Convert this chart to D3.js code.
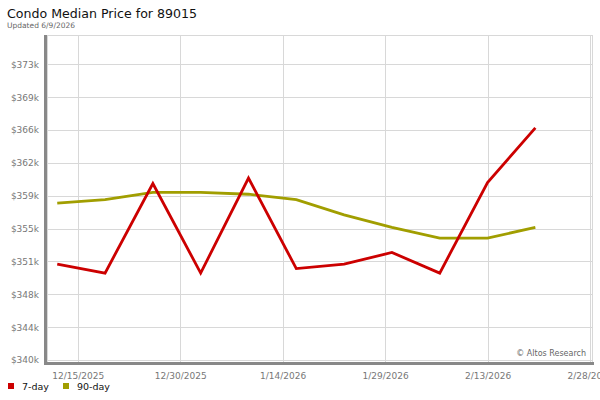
<!DOCTYPE html>
<html><head><meta charset="utf-8">
<script src="https://cdn.jsdelivr.net/npm/d3@7"></script>
<style>
html,body{margin:0;padding:0;background:#fff;}
svg{display:block;font-family:"DejaVu Sans",sans-serif;}
</style></head>
<body>
<svg id="chart" width="600" height="400"></svg>
<script>
const dates = ["2025-12-12","2025-12-19","2025-12-26","2026-01-02","2026-01-09","2026-01-16","2026-01-23","2026-01-30","2026-02-06","2026-02-13","2026-02-20"];
const sevenDay = [350.7, 349.7, 359.7, 349.7, 360.3, 350.2, 350.7, 352.0, 349.7, 359.8, 365.9];
const ninetyDay = [357.5, 357.9, 358.7, 358.7, 358.5, 357.9, 356.2, 354.8, 353.6, 353.6, 354.8];
const yTickValues = [340, 343.667, 347.333, 351, 354.667, 358.333, 362, 365.667, 369.333, 373];
const yTickLabels = ["$340k","$344k","$348k","$351k","$355k","$359k","$362k","$366k","$369k","$373k"];
const xTickDates = ["2025-12-15","2025-12-30","2026-01-14","2026-01-29","2026-02-13","2026-02-28"];
const xTickLabels = ["12/15/2025","12/30/2025","1/14/2026","1/29/2026","2/13/2026","2/28/2026"];
const seriesNames = ["7-day","90-day"];
const seriesColors = ["#cc0000","#a19e00"];

const parse = d3.utcParse("%Y-%m-%d");
const svg = d3.select("#chart");
const L = 47, R = 592, T = 35, B = 360;

const x = d3.scaleUtc()
  .domain([new Date(Date.UTC(2025,11,10,12)), parse("2026-02-28")])
  .range([L, 590]);
const y = d3.scaleLinear().domain([340, 376.27]).range([B, T]);

// title
svg.append("text").attr("x", 7).attr("y", 18).attr("font-size", 12.6).attr("fill", "#111")
  .text("Condo Median Price for 89015");
svg.append("text").attr("x", 7).attr("y", 28).attr("font-size", 7.5).attr("fill", "#666")
  .text("Updated 6/9/2026");

// frame
svg.append("rect").attr("x", L).attr("y", T).attr("width", R - L).attr("height", B - T + 3)
  .attr("fill", "#fff").attr("stroke", "#d8d8d8").attr("stroke-width", 1).attr("shape-rendering","crispEdges");

// grid lines
const yAxis = d3.axisLeft(y).tickValues(yTickValues)
  .tickFormat((d, i) => yTickLabels[i]).tickSize(-(R - L)).tickPadding(8);
const gy = svg.append("g").attr("transform", `translate(${L},0)`).call(yAxis);
gy.select(".domain").remove();
gy.selectAll("line").attr("stroke", "#d8d8d8").attr("shape-rendering","crispEdges");
gy.selectAll("text").attr("fill", "#777").attr("font-size", 9).attr("font-family", "DejaVu Sans");

const xTicks = xTickDates.map(parse);
const xAxis = d3.axisBottom(x).tickValues(xTicks)
  .tickFormat((d, i) => xTickLabels[i]).tickSize(-(B - T + 3)).tickPadding(10);
const gx = svg.append("g").attr("transform", `translate(0,${B + 3})`).call(xAxis);
gx.select(".domain").remove();
gx.selectAll("line").attr("stroke", "#d8d8d8").attr("shape-rendering","crispEdges");
gx.selectAll("text").attr("fill", "#777").attr("font-size", 9).attr("font-family", "DejaVu Sans");

// axis bars
svg.append("rect").attr("x", 44).attr("y", T).attr("width", 3).attr("height", B - T + 5).attr("fill", "#888");
svg.append("rect").attr("x", 44).attr("y", B + 2).attr("width", R - 44 + 2).attr("height", 3).attr("fill", "#888");

// watermark
svg.append("text").attr("x", 586).attr("y", 356).attr("text-anchor", "end")
  .attr("font-size", 8).attr("fill", "#666").text("© Altos Research");

// lines
const pts = dates.map(parse);
const line = d3.line().x((d, i) => x(pts[i])).y(d => y(d));
[ninetyDay, sevenDay].forEach((s, k) => {
  const idx = k === 0 ? 1 : 0;
  svg.append("path").datum(s).attr("d", line).attr("fill", "none")
    .attr("stroke", seriesColors[idx]).attr("stroke-width", 2.8).attr("stroke-linejoin", "miter");
});

// legend
const legendX = [8, 63];
seriesNames.forEach((n, i) => {
  svg.append("rect").attr("x", legendX[i]).attr("y", 383).attr("width", 6).attr("height", 6).attr("fill", seriesColors[i]);
  svg.append("text").attr("x", legendX[i] + 14).attr("y", 390).attr("font-size", 9.5).attr("fill", "#111").text(n);
});
</script>
</body></html>
